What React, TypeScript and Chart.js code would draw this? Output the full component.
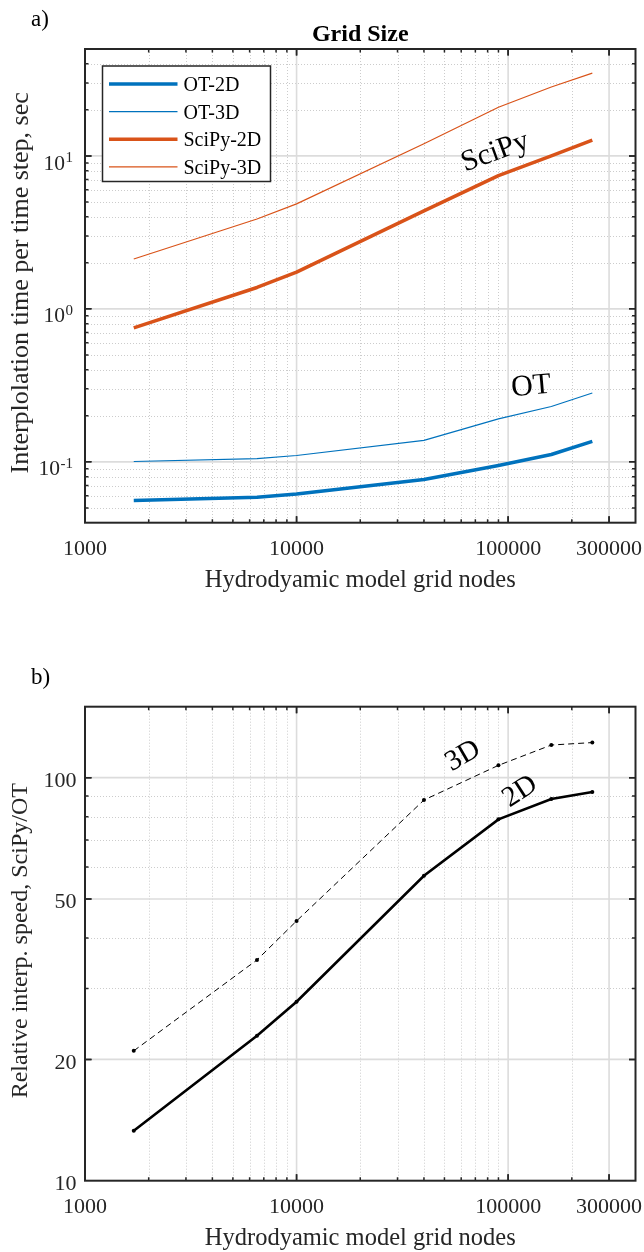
import React, { useEffect, useRef } from "react";
import { Chart, registerables } from "chart.js";

Chart.register(...registerables);

// ---------------- data ----------------
const gridNodes = [1700, 6500, 10000, 40000, 90000, 160000, 250000];

const ot2D = [0.0558, 0.0587, 0.0617, 0.0766, 0.0945, 0.1116, 0.136];
const ot3D = [0.1005, 0.105, 0.11, 0.138, 0.191, 0.23, 0.282];
const scipy2D = [0.751, 1.38, 1.74, 4.37, 7.43, 10.0, 12.7];
const scipy3D = [2.12, 3.87, 4.86, 12.0, 20.8, 28.2, 34.8];

const speed2D = [13.3, 22.9, 27.8, 57.1, 78.8, 88.5, 92.1];
const speed3D = [21.0, 35.3, 44.1, 88.0, 107.3, 120.5, 122.2];

const xTickValues = [1000, 10000, 100000, 300000];
const xTickLabels = ["1000", "10000", "100000", "300000"];

const timeTickValues = [0.1, 1, 10];
const timeTickExponents = ["-1", "0", "1"];

const speedTickValues = [10, 20, 50, 100];
const speedTickLabels = ["10", "20", "50", "100"];

const timeSeriesNames = ["OT-2D", "OT-3D", "SciPy-2D", "SciPy-3D"];
const speedSeriesNames = ["2D", "3D"];

const timeNotes = [
  { text: "SciPy", x: 86900, y: 10.56, angle: -20 },
  { text: "OT", x: 128500, y: 0.31, angle: -5 },
];
const speedNotes = [
  { text: "3D", x: 61200, y: 113.2, angle: -30 },
  { text: "2D", x: 114000, y: 92.3, angle: -33 },
];

// ---------------- style ----------------
const FONT = "'Liberation Serif', 'Times New Roman', Times, serif";
const INK = "#262626";
const BLUE = "#0072BD";
const ORANGE = "#D95319";
const W = 644;
const H = 626;
const AREA_LEFT = 85;
const AREA_RIGHT = 635.5;

function logMinor(min: number, max: number) {
  const out: number[] = [];
  for (let e = Math.floor(Math.log10(min)); e <= Math.ceil(Math.log10(max)); e++) {
    for (let m = 1; m < 10; m++) {
      const v = parseFloat((m * Math.pow(10, e)).toPrecision(6));
      if (v > min * 1.0001 && v < max * 0.9999) out.push(v);
    }
  }
  return out;
}

function isIn(v: number, list: number[]) {
  return list.some((t) => Math.abs(t - v) / t < 1e-6);
}

type PanelCfg = {
  panelLabel: string;
  panelBaseline: number;
  title?: string;
  yTitle: string;
  yTitleFont: string;
  xMin: number;
  xMax: number;
  yMin: number;
  yMax: number;
  yMajor: number[];
  drawYLabels: (ctx: CanvasRenderingContext2D, chart: any) => void;
  legend?: boolean;
  notes: { text: string; x: number; y: number; angle: number }[];
  noteFont: string;
};

function drawGrid(chart: any, cfg: PanelCfg) {
  const { ctx, chartArea: a } = chart;
  const xs = chart.scales.x;
  const ys = chart.scales.y;
  const xMinor = logMinor(cfg.xMin, cfg.xMax).filter((v) => !isIn(v, xTickValues));
  const yMinor = logMinor(cfg.yMin, cfg.yMax).filter((v) => !isIn(v, cfg.yMajor));
  ctx.save();
  ctx.beginPath();
  ctx.rect(a.left, a.top, a.right - a.left, a.bottom - a.top);
  ctx.clip();
  ctx.lineWidth = 1;
  ctx.strokeStyle = "#cccccc";
  ctx.setLineDash([1, 2]);
  xMinor.forEach((v) => {
    const px = Math.round(xs.getPixelForValue(v)) + 0.5;
    ctx.beginPath();
    ctx.moveTo(px, a.top);
    ctx.lineTo(px, a.bottom);
    ctx.stroke();
  });
  yMinor.forEach((v) => {
    const py = Math.round(ys.getPixelForValue(v)) + 0.5;
    ctx.beginPath();
    ctx.moveTo(a.left, py);
    ctx.lineTo(a.right, py);
    ctx.stroke();
  });
  ctx.setLineDash([]);
  ctx.strokeStyle = "#dcdcdc";
  ctx.lineWidth = 1.6;
  xTickValues.forEach((v) => {
    if (v <= cfg.xMin || v >= cfg.xMax) return;
    const px = xs.getPixelForValue(v);
    ctx.beginPath();
    ctx.moveTo(px, a.top);
    ctx.lineTo(px, a.bottom);
    ctx.stroke();
  });
  cfg.yMajor.forEach((v) => {
    if (v <= cfg.yMin || v >= cfg.yMax) return;
    const py = ys.getPixelForValue(v);
    ctx.beginPath();
    ctx.moveTo(a.left, py);
    ctx.lineTo(a.right, py);
    ctx.stroke();
  });
  ctx.restore();
}

function drawFrame(chart: any, cfg: PanelCfg) {
  const { ctx, chartArea: a } = chart;
  const xs = chart.scales.x;
  const ys = chart.scales.y;
  ctx.save();
  // ticks
  ctx.strokeStyle = INK;
  ctx.lineWidth = 1.5;
  const xAll = logMinor(cfg.xMin, cfg.xMax).concat(xTickValues.filter((v) => v > cfg.xMin && v < cfg.xMax));
  xAll.forEach((v) => {
    const len = isIn(v, xTickValues) ? 6.5 : 3.5;
    const px = xs.getPixelForValue(v);
    ctx.beginPath();
    ctx.moveTo(px, a.bottom);
    ctx.lineTo(px, a.bottom - len);
    ctx.moveTo(px, a.top);
    ctx.lineTo(px, a.top + len);
    ctx.stroke();
  });
  const yAll = logMinor(cfg.yMin, cfg.yMax).concat(cfg.yMajor.filter((v) => v > cfg.yMin && v < cfg.yMax));
  yAll.forEach((v) => {
    const len = isIn(v, cfg.yMajor) ? 6.5 : 3.5;
    const py = ys.getPixelForValue(v);
    ctx.beginPath();
    ctx.moveTo(a.left, py);
    ctx.lineTo(a.left + len, py);
    ctx.moveTo(a.right, py);
    ctx.lineTo(a.right - len, py);
    ctx.stroke();
  });
  // box
  ctx.lineWidth = 2;
  ctx.strokeRect(a.left, a.top, a.right - a.left, a.bottom - a.top);

  // x tick labels
  ctx.fillStyle = INK;
  ctx.font = `22px ${FONT}`;
  ctx.textAlign = "center";
  ctx.textBaseline = "alphabetic";
  xTickValues.forEach((v, i) => {
    ctx.fillText(xTickLabels[i], xs.getPixelForValue(v), a.bottom + 32.5);
  });
  // x title
  ctx.font = `24.5px ${FONT}`;
  ctx.fillText("Hydrodyamic model grid nodes", (a.left + a.right) / 2, a.bottom + 64);

  // y labels
  cfg.drawYLabels(ctx, chart);

  // y title
  ctx.save();
  ctx.translate(21, (a.top + a.bottom) / 2 - 3);
  ctx.rotate(-Math.PI / 2);
  ctx.font = cfg.yTitleFont;
  ctx.textAlign = "center";
  ctx.textBaseline = "middle";
  ctx.fillStyle = INK;
  ctx.fillText(cfg.yTitle, 0, 0);
  ctx.restore();

  // panel label
  ctx.font = `23px ${FONT}`;
  ctx.textAlign = "left";
  ctx.textBaseline = "alphabetic";
  ctx.fillStyle = "#000";
  ctx.fillText(cfg.panelLabel, 31, cfg.panelBaseline);

  // title
  if (cfg.title) {
    ctx.font = `bold 24px ${FONT}`;
    ctx.textAlign = "center";
    ctx.fillText(cfg.title, (a.left + a.right) / 2, 41);
  }

  // notes
  cfg.notes.forEach((n) => {
    ctx.save();
    ctx.translate(xs.getPixelForValue(n.x), ys.getPixelForValue(n.y));
    ctx.rotate((n.angle * Math.PI) / 180);
    ctx.font = cfg.noteFont;
    ctx.textAlign = "center";
    ctx.textBaseline = "middle";
    ctx.fillStyle = "#000";
    ctx.fillText(n.text, 0, 0);
    ctx.restore();
  });

  // legend
  if (cfg.legend) {
    const bx = 102.5;
    const by = 66;
    const bw = 168;
    const bh = 115.5;
    ctx.fillStyle = "#ffffff";
    ctx.fillRect(bx, by, bw, bh);
    ctx.strokeStyle = INK;
    ctx.lineWidth = 1.5;
    ctx.strokeRect(bx, by, bw, bh);
    ctx.font = `20px ${FONT}`;
    ctx.textAlign = "left";
    ctx.textBaseline = "alphabetic";
    chart.data.datasets.forEach((ds: any, i: number) => {
      const ry = by + 18 + i * 27.6;
      ctx.strokeStyle = ds.borderColor;
      ctx.lineWidth = ds.borderWidth;
      ctx.beginPath();
      ctx.moveTo(bx + 6.5, ry);
      ctx.lineTo(bx + 75, ry);
      ctx.stroke();
      ctx.fillStyle = "#000";
      ctx.fillText(ds.label, bx + 81, ry + 7);
    });
  }
  ctx.restore();
}

function drawTimeYLabels(ctx: CanvasRenderingContext2D, chart: any) {
  const ys = chart.scales.y;
  const right = 73;
  timeTickValues.forEach((v, i) => {
    const py = ys.getPixelForValue(v);
    ctx.fillStyle = INK;
    ctx.textBaseline = "alphabetic";
    ctx.font = `15px ${FONT}`;
    const sup = timeTickExponents[i];
    const sw = ctx.measureText(sup).width;
    ctx.textAlign = "left";
    ctx.fillText(sup, right - sw, py + 6);
    ctx.font = `21.5px ${FONT}`;
    ctx.textAlign = "right";
    ctx.fillText("10", right - sw - 0.5, py + 13.6);
  });
}

function drawSpeedYLabels(ctx: CanvasRenderingContext2D, chart: any) {
  const ys = chart.scales.y;
  ctx.fillStyle = INK;
  ctx.font = `22px ${FONT}`;
  ctx.textAlign = "right";
  ctx.textBaseline = "alphabetic";
  speedTickValues.forEach((v, i) => {
    ctx.fillText(speedTickLabels[i], 76.5, ys.getPixelForValue(v) + 9.5);
  });
}

function pts(xs: number[], ys: number[]) {
  return xs.map((x, i) => ({ x, y: ys[i] }));
}

function baseOptions(cfg: PanelCfg, areaTop: number, areaBottom: number) {
  return {
    responsive: false,
    maintainAspectRatio: false,
    animation: false as const,
    devicePixelRatio: 1,
    events: [] as any[],
    layout: { padding: { left: 0, right: W - AREA_RIGHT, top: areaTop, bottom: 0 } },
    plugins: {
      legend: { display: false },
      tooltip: { enabled: false },
      title: { display: false },
    },
    scales: {
      x: {
        type: "logarithmic" as const,
        min: cfg.xMin,
        max: cfg.xMax,
        grid: { display: false },
        border: { display: false },
        ticks: { display: false },
        afterFit: (s: any) => {
          s.height = H - areaBottom;
        },
      },
      y: {
        type: "logarithmic" as const,
        min: cfg.yMin,
        max: cfg.yMax,
        grid: { display: false },
        border: { display: false },
        ticks: { display: false },
        afterFit: (s: any) => {
          s.width = AREA_LEFT;
        },
      },
    },
  };
}

function timeConfig(): any {
  const cfg: PanelCfg = {
    panelLabel: "a)",
    panelBaseline: 26,
    title: "Grid Size",
    yTitle: "Interplolation time per time step, sec",
    yTitleFont: `26px ${FONT}`,
    xMin: 1000,
    xMax: 400000,
    yMin: 0.04,
    yMax: 50,
    yMajor: timeTickValues,
    drawYLabels: drawTimeYLabels,
    legend: true,
    notes: timeNotes,
    noteFont: `30px ${FONT}`,
  };
  const series = [ot2D, ot3D, scipy2D, scipy3D];
  const colors = [BLUE, BLUE, ORANGE, ORANGE];
  const widths = [3.5, 1.2, 3.5, 1.2];
  return {
    type: "line",
    data: {
      datasets: series.map((s, i) => ({
        label: timeSeriesNames[i],
        data: pts(gridNodes, s),
        borderColor: colors[i],
        backgroundColor: colors[i],
        borderWidth: widths[i],
        pointRadius: 0,
        tension: 0,
        fill: false,
        borderJoinStyle: "round",
        borderCapStyle: "butt",
      })),
    },
    options: baseOptions(cfg, 49, 522.7),
    plugins: [
      {
        id: "matlabAxesTime",
        beforeDatasetsDraw: (c: any) => drawGrid(c, cfg),
        afterDatasetsDraw: (c: any) => drawFrame(c, cfg),
      },
    ],
  };
}

function speedConfig(): any {
  const cfg: PanelCfg = {
    panelLabel: "b)",
    panelBaseline: 58,
    yTitle: "Relative interp. speed, SciPy/OT",
    yTitleFont: `24px ${FONT}`,
    xMin: 1000,
    xMax: 400000,
    yMin: 10,
    yMax: 150,
    yMajor: speedTickValues,
    drawYLabels: drawSpeedYLabels,
    notes: speedNotes,
    noteFont: `29px ${FONT}`,
  };
  return {
    type: "line",
    data: {
      datasets: [
        {
          label: speedSeriesNames[0],
          data: pts(gridNodes, speed2D),
          borderColor: "#000",
          backgroundColor: "#000",
          borderWidth: 2.6,
          pointRadius: 2,
          pointBorderWidth: 0,
          pointBackgroundColor: "#000",
          tension: 0,
          fill: false,
        },
        {
          label: speedSeriesNames[1],
          data: pts(gridNodes, speed3D),
          borderColor: "#000",
          backgroundColor: "#000",
          borderWidth: 1,
          borderDash: [6, 4],
          pointRadius: 2,
          pointBorderWidth: 0,
          pointBackgroundColor: "#000",
          tension: 0,
          fill: false,
        },
      ],
    },
    options: baseOptions(cfg, 80.7, 554.7),
    plugins: [
      {
        id: "matlabAxesSpeed",
        beforeDatasetsDraw: (c: any) => drawGrid(c, cfg),
        afterDatasetsDraw: (c: any) => drawFrame(c, cfg),
      },
    ],
  };
}

function Panel({ top, make }: { top: number; make: () => any }) {
  const ref = useRef<HTMLCanvasElement>(null);
  useEffect(() => {
    const chart = new Chart(ref.current as HTMLCanvasElement, make());
    return () => chart.destroy();
  }, []);
  return (
    <canvas
      ref={ref}
      width={W}
      height={H}
      style={{ position: "absolute", left: 0, top, width: W, height: H, display: "block" }}
    />
  );
}

export default function App() {
  return (
    <div style={{ position: "absolute", left: 0, top: 0, width: W, height: 1252, background: "#fff" }}>
      <Panel top={0} make={timeConfig} />
      <Panel top={626} make={speedConfig} />
    </div>
  );
}
